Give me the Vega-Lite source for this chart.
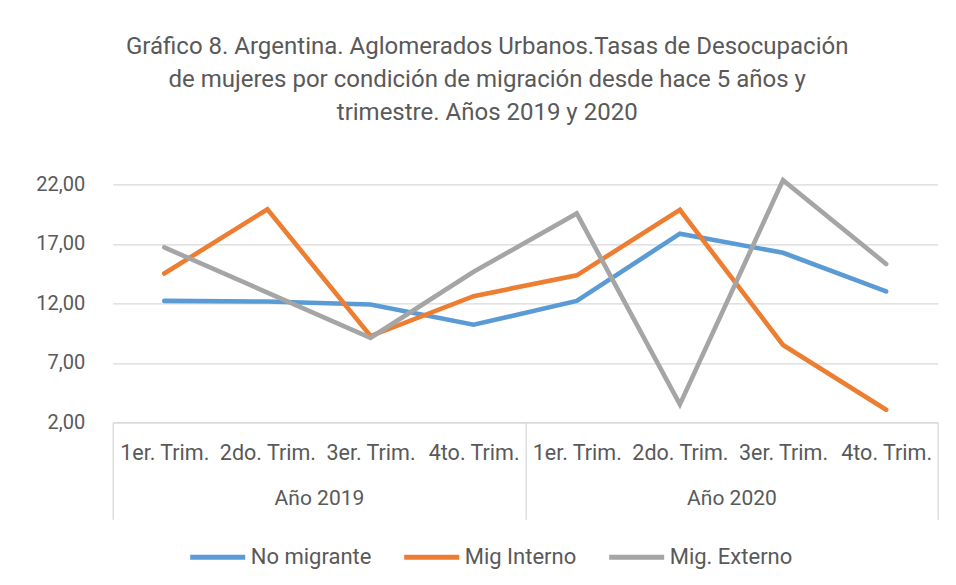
{
  "$schema": "https://vega.github.io/schema/vega-lite/v6.json",
  "autosize": "none",
  "width": 825,
  "height": 238,
  "padding": {"left": 112.7, "top": 184.3, "right": 18.3, "bottom": 162.7},
  "background": "white",
  "config": {
    "view": {"stroke": null},
    "font": "Roboto",
    "axis": {"labelColor": "#595959", "labelFont": "Roboto", "titleColor": "#595959"}
  },
  "title": {
    "text": ["Gráfico 8. Argentina. Aglomerados Urbanos.Tasas de Desocupación", "de mujeres por condición de migración desde hace 5 años y", "trimestre. Años 2019 y 2020"],
    "anchor": "middle",
    "frame": "group",
    "dx": -38,
    "offset": 46,
    "fontSize": 24,
    "fontWeight": "normal",
    "color": "#595959",
    "lineHeight": 33,
    "font": "Roboto"
  },
  "layer": [
    {
      "data": {"values": [
        {"periodo": "2019|1er. Trim.", "serie": "No migrante", "valor": 12.2},
        {"periodo": "2019|2do. Trim.", "serie": "No migrante", "valor": 12.15},
        {"periodo": "2019|3er. Trim.", "serie": "No migrante", "valor": 11.9},
        {"periodo": "2019|4to. Trim.", "serie": "No migrante", "valor": 10.2},
        {"periodo": "2020|1er. Trim.", "serie": "No migrante", "valor": 12.2},
        {"periodo": "2020|2do. Trim.", "serie": "No migrante", "valor": 17.85},
        {"periodo": "2020|3er. Trim.", "serie": "No migrante", "valor": 16.25},
        {"periodo": "2020|4to. Trim.", "serie": "No migrante", "valor": 13.0},
        {"periodo": "2019|1er. Trim.", "serie": "Mig Interno", "valor": 14.5},
        {"periodo": "2019|2do. Trim.", "serie": "Mig Interno", "valor": 19.9},
        {"periodo": "2019|3er. Trim.", "serie": "Mig Interno", "valor": 9.25},
        {"periodo": "2019|4to. Trim.", "serie": "Mig Interno", "valor": 12.6},
        {"periodo": "2020|1er. Trim.", "serie": "Mig Interno", "valor": 14.35},
        {"periodo": "2020|2do. Trim.", "serie": "Mig Interno", "valor": 19.85},
        {"periodo": "2020|3er. Trim.", "serie": "Mig Interno", "valor": 8.5},
        {"periodo": "2020|4to. Trim.", "serie": "Mig Interno", "valor": 3.05},
        {"periodo": "2019|1er. Trim.", "serie": "Mig. Externo", "valor": 16.7},
        {"periodo": "2019|2do. Trim.", "serie": "Mig. Externo", "valor": 12.9},
        {"periodo": "2019|3er. Trim.", "serie": "Mig. Externo", "valor": 9.1},
        {"periodo": "2019|4to. Trim.", "serie": "Mig. Externo", "valor": 14.65},
        {"periodo": "2020|1er. Trim.", "serie": "Mig. Externo", "valor": 19.55},
        {"periodo": "2020|2do. Trim.", "serie": "Mig. Externo", "valor": 3.5},
        {"periodo": "2020|3er. Trim.", "serie": "Mig. Externo", "valor": 22.35},
        {"periodo": "2020|4to. Trim.", "serie": "Mig. Externo", "valor": 15.3}
      ]},
      "mark": {"type": "line", "strokeWidth": 4.6, "strokeCap": "round", "strokeJoin": "miter", "clip": false},
      "encoding": {
        "x": {
          "field": "periodo", "type": "nominal", "sort": null,
          "scale": {"type": "point", "padding": 0.5},
          "axis": {
            "orient": "bottom", "title": null, "labelAngle": 0,
            "labelExpr": "split(datum.label, '|')[1]",
            "labelFontSize": 21.5, "labelPadding": 20, "ticks": false, "tickSize": 0,
            "domain": true, "domainColor": "#d9d9d9", "domainWidth": 1.3, "grid": false
          }
        },
        "y": {
          "field": "valor", "type": "quantitative",
          "scale": {"domain": [2, 22], "nice": false, "zero": false},
          "axis": {
            "title": null, "values": [2, 7, 12, 17, 22],
            "labelExpr": "replace(format(datum.value, '.2f'), '.', ',')",
            "labelFontSize": 20, "labelPadding": 28, "ticks": false, "domain": false,
            "grid": true, "gridColor": "#d9d9d9", "gridWidth": 1.3
          }
        },
        "color": {
          "field": "serie", "type": "nominal",
          "scale": {"domain": ["No migrante", "Mig Interno", "Mig. Externo"], "range": ["#5B9BD5", "#ED7D31", "#A5A5A5"]},
          "legend": {
            "title": null, "orient": "none", "direction": "horizontal",
            "legendX": 75, "legendY": 343,
            "symbolType": "stroke", "symbolSize": 3025, "symbolStrokeWidth": 5,
            "labelFontSize": 22, "labelColor": "#595959", "labelFont": "Roboto",
            "labelOffset": 3, "columnPadding": 22
          }
        }
      }
    },
    {
      "data": {"values": [{"anio": "Año 2019"}, {"anio": "Año 2020"}]},
      "mark": {"type": "point", "opacity": 0},
      "encoding": {
        "x": {
          "field": "anio", "type": "nominal",
          "scale": {"type": "band", "paddingInner": 0, "paddingOuter": 0},
          "axis": {
            "orient": "bottom", "title": null, "labelAngle": 0,
            "labelFontSize": 21, "labelPadding": -32,
            "ticks": true, "tickBand": "extent", "tickSize": 97, "tickColor": "#d9d9d9", "tickWidth": 1.3,
            "domain": false, "grid": false
          }
        }
      }
    }
  ],
  "resolve": {"scale": {"x": "independent"}, "axis": {"x": "independent"}}
}
